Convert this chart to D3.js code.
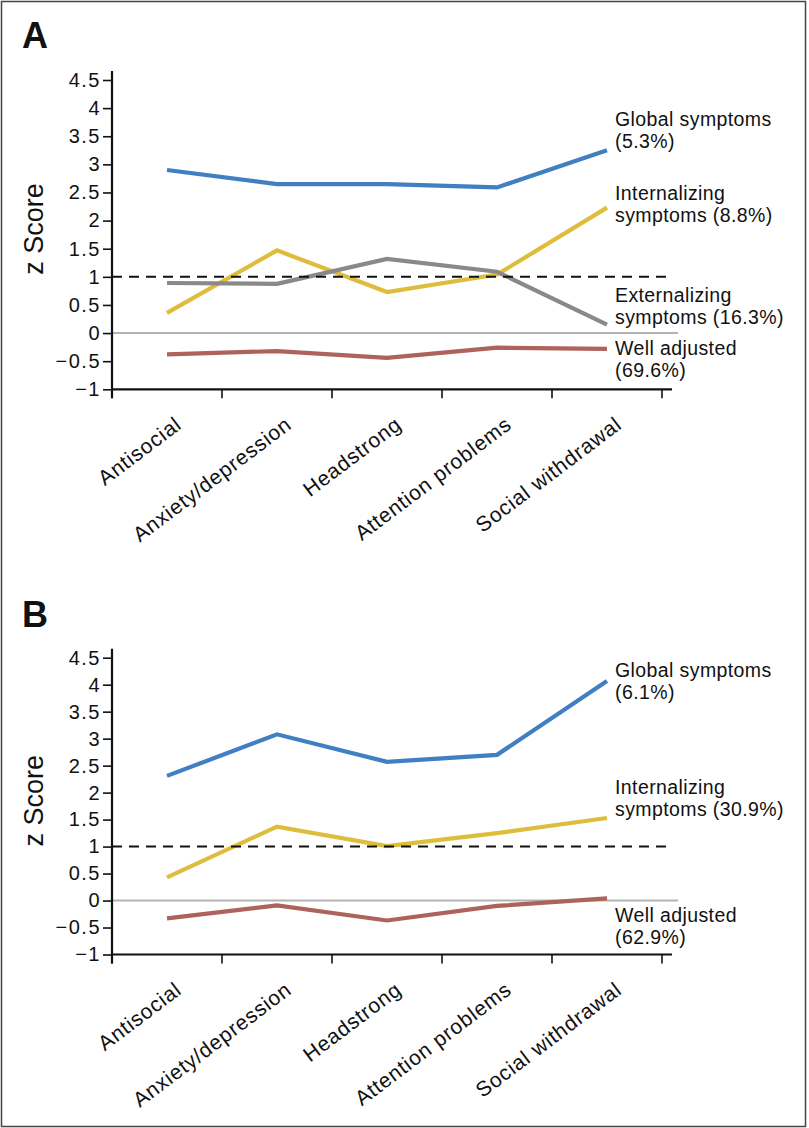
<!DOCTYPE html>
<html>
<head>
<meta charset="utf-8">
<script src="https://cdn.jsdelivr.net/npm/d3@7/dist/d3.min.js"></script>
<style>
  html, body { margin: 0; padding: 0; background: #fff; }
  svg { display: block; }
  text { font-family: "Liberation Sans", Arial, Helvetica, sans-serif; fill: #111; }
</style>
</head>
<body>
<svg id="chart" width="809" height="1128"></svg>
<script>
// ---------- data ----------
const categories = ["Antisocial", "Anxiety/depression", "Headstrong", "Attention problems", "Social withdrawal"];
const yTickValues = [-1, -0.5, 0, 0.5, 1, 1.5, 2, 2.5, 3, 3.5, 4, 4.5];
const yTickLabels = ["\u22121", "\u22120.5", "0", "0.5", "1", "1.5", "2", "2.5", "3", "3.5", "4", "4.5"];
const yAxisTitle = "z Score";
const thresholdValue = 1;

// Panel A
const panelA_title = "A";
const panelA_global = [2.90, 2.65, 2.65, 2.59, 3.25];
const panelA_internalizing = [0.36, 1.47, 0.73, 1.04, 2.23];
const panelA_externalizing = [0.89, 0.875, 1.32, 1.09, 0.15];
const panelA_wellAdjusted = [-0.38, -0.32, -0.44, -0.26, -0.28];
const panelA_labels = [["Global symptoms", "(5.3%)"], ["Internalizing", "symptoms (8.8%)"], ["Externalizing", "symptoms (16.3%)"], ["Well adjusted", "(69.6%)"]];

// Panel B
const panelB_title = "B";
const panelB_global = [2.31, 3.08, 2.57, 2.70, 4.07];
const panelB_internalizing = [0.43, 1.37, 1.01, 1.25, 1.53];
const panelB_wellAdjusted = [-0.33, -0.09, -0.37, -0.10, 0.04];
const panelB_labels = [["Global symptoms", "(6.1%)"], ["Internalizing", "symptoms (30.9%)"], ["Well adjusted", "(62.9%)"]];

// ---------- styles ----------
const colors = { global: "#3f7fc2", internalizing: "#dfbd3c", externalizing: "#898989", wellAdjusted: "#ad625c" };

const svg = d3.select("#chart");

// outer frame
svg.append("rect").attr("x", 1.5).attr("y", 1.5).attr("width", 804).attr("height", 1125)
  .attr("fill", "none").attr("stroke", "#444").attr("stroke-width", 1.5);

function drawPanel(cfg) {
  const g = svg.append("g");
  const x = d3.scaleBand().domain(categories).range([cfg.left, cfg.right]);
  const y = d3.scaleLinear().domain([-1, 4.5]).range([cfg.bottom, cfg.top]);
  const cx = c => x(c) + x.bandwidth() / 2;

  // panel letter
  g.append("text").attr("x", 22).attr("y", cfg.letterY)
    .style("font-size", "36px").style("font-weight", "bold").text(cfg.title);

  // zero line
  g.append("line").attr("x1", cfg.left).attr("x2", cfg.right + 16)
    .attr("y1", y(0)).attr("y2", y(0)).attr("stroke", "#b3b3b3").attr("stroke-width", 2);

  // series lines
  const line = d3.line().x((d, i) => cx(categories[i])).y(d => y(d));
  cfg.series.forEach(s => {
    g.append("path").datum(s.values).attr("d", line)
      .attr("fill", "none").attr("stroke", s.color).attr("stroke-width", 4.2)
      .attr("stroke-linejoin", "miter").attr("stroke-linecap", "butt");
  });

  // dashed threshold
  g.append("line").attr("x1", cfg.left).attr("x2", cfg.right + 11)
    .attr("y1", y(thresholdValue)).attr("y2", y(thresholdValue))
    .attr("stroke", "#111").attr("stroke-width", 2).attr("stroke-dasharray", "10,7");

  // y axis
  const yAxis = d3.axisLeft(y).tickValues(yTickValues).tickSize(9).tickPadding(2)
    .tickFormat((d, i) => yTickLabels[i]);
  const ya = g.append("g").attr("transform", `translate(${cfg.left},0)`).call(yAxis);
  ya.select(".domain").remove();
  ya.selectAll(".tick line").attr("stroke", "#111").attr("stroke-width", 1.6);
  ya.selectAll(".tick text").style("font-size", "20px").style("letter-spacing", "1.5px")
    .style("font-family", "Liberation Sans, Arial, sans-serif").attr("fill", "#111");
  g.append("line").attr("x1", cfg.left).attr("x2", cfg.left)
    .attr("y1", cfg.top - 9).attr("y2", cfg.bottom + 9).attr("stroke", "#111").attr("stroke-width", 2.2);

  // x axis
  const boundaries = categories.map(c => x(c)).concat([cfg.right]);
  g.append("line").attr("x1", cfg.left).attr("x2", cfg.right + 10)
    .attr("y1", cfg.bottom).attr("y2", cfg.bottom).attr("stroke", "#111").attr("stroke-width", 2.2);
  g.selectAll(".xtick").data(boundaries).enter().append("line")
    .attr("x1", d => d).attr("x2", d => d).attr("y1", cfg.bottom).attr("y2", cfg.bottom + 9)
    .attr("stroke", "#111").attr("stroke-width", 1.6);

  g.selectAll(".xlab").data(categories).enter().append("text")
    .attr("text-anchor", "end")
    .attr("transform", c => `translate(${cx(c) + 16},${cfg.bottom + 38}) rotate(-37)`)
    .style("font-size", "21px").style("letter-spacing", "0.8px").text(c => c);

  // y axis title
  g.append("text").attr("text-anchor", "middle")
    .attr("transform", `translate(43,${y(1.85)}) rotate(-90)`)
    .style("font-size", "27px").text(yAxisTitle);

  // series labels
  cfg.series.forEach((s, k) => {
    const t = g.append("text").attr("x", cfg.labelX).style("font-size", "19.5px").style("letter-spacing", "0.4px");
    cfg.labels[k].forEach((ln, j) => {
      t.append("tspan").attr("x", cfg.labelX).attr("y", cfg.labelY[k] + j * 21.5).text(ln);
    });
  });
}

drawPanel({
  title: panelA_title, letterY: 48,
  left: 112, right: 662, top: 80, bottom: 389.3, labelX: 615,
  series: [
    { values: panelA_global, color: colors.global },
    { values: panelA_internalizing, color: colors.internalizing },
    { values: panelA_externalizing, color: colors.externalizing },
    { values: panelA_wellAdjusted, color: colors.wellAdjusted }
  ],
  labels: panelA_labels,
  labelY: [126, 200, 302, 355]
});

drawPanel({
  title: panelB_title, letterY: 627,
  left: 112, right: 662, top: 657.7, bottom: 954.5, labelX: 615,
  series: [
    { values: panelB_global, color: colors.global },
    { values: panelB_internalizing, color: colors.internalizing },
    { values: panelB_wellAdjusted, color: colors.wellAdjusted }
  ],
  labels: panelB_labels,
  labelY: [677, 794, 922]
});
</script>
</body>
</html>
